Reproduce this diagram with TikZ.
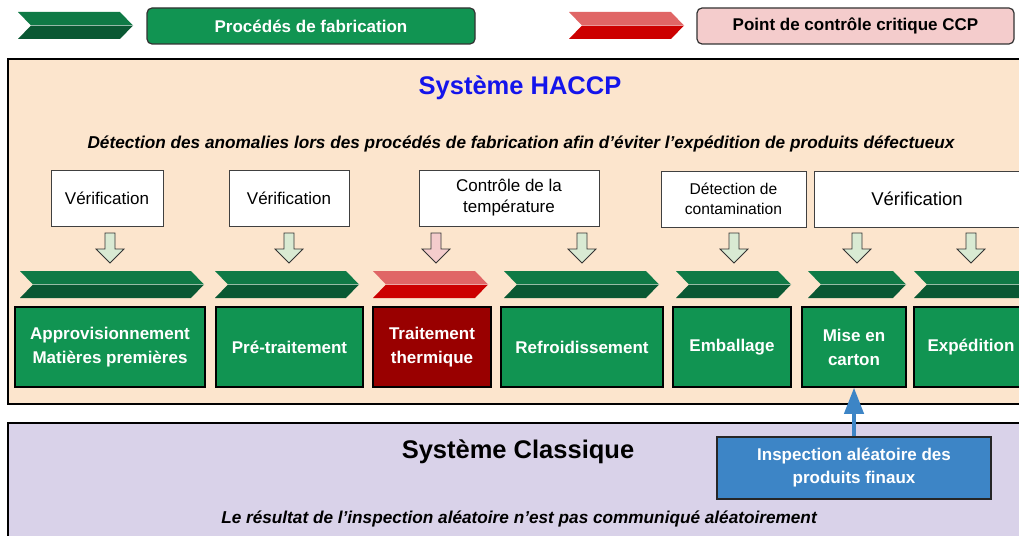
\documentclass[tikz,border=0pt]{standalone}
\usepackage{fontspec}
\setmainfont{Liberation Sans}
\usetikzlibrary{arrows.meta}
\definecolor{procgreen}{RGB}{17,148,82}
\definecolor{ccpred}{RGB}{153,0,0}
\definecolor{chgtop}{RGB}{15,122,70}
\definecolor{chgbot}{RGB}{10,88,51}
\definecolor{chrtop}{RGB}{224,102,102}
\definecolor{chrbot}{RGB}{204,0,0}
\definecolor{haccpbg}{RGB}{252,229,205}
\definecolor{classbg}{RGB}{217,210,233}
\definecolor{inspblue}{RGB}{61,133,198}
\definecolor{titleblue}{RGB}{20,20,235}
\definecolor{arrgreen}{RGB}{217,234,211}
\definecolor{arrpink}{RGB}{244,204,204}
\newcommand\mychev[6]{%
  \fill[#5] (#1,#3) -- ({#2-13},#3) -- (#2,{(#3+#4)/2}) -- ({#1+13},{(#3+#4)/2}) -- cycle;
  \fill[#6] ({#1+13},{(#3+#4)/2}) -- (#2,{(#3+#4)/2}) -- ({#2-13},#4) -- (#1,#4) -- cycle;
  \draw[white,opacity=0.45,line width=0.9pt] ({#1+13},{(#3+#4)/2}) -- (#2,{(#3+#4)/2});
}
\newcommand\myblockarrow[2]{%
  \draw[draw=black!80,fill=#2,line width=0.8pt,line join=miter]
    ({#1-5},233) -- ({#1+5},233) -- ({#1+5},249) -- ({#1+14},249) -- (#1,263)
    -- ({#1-14},249) -- ({#1-5},249) -- cycle;
}
\tikzset{
  lbl/.style={draw=black!75,fill=white,line width=1pt,minimum height=56pt,inner sep=0pt,
    align=center,font=\fontsize{17}{21}\selectfont},
  proc/.style={draw=black,line width=1.5pt,fill=procgreen,text=white,minimum height=80pt,
    inner sep=0pt,align=center,font=\bfseries\fontsize{17}{24}\selectfont},
  legbox/.style={draw=black!80,line width=1.2pt,rounded corners=5pt,minimum height=36pt,
    inner sep=0pt,font=\bfseries\fontsize{17}{21}\selectfont},
  sysbox/.style={draw=black,line width=2pt},
  plain/.style={inner sep=0pt,align=center}
}
\begin{document}
\begin{tikzpicture}[x=1pt,y=-1pt]
\useasboundingbox (0,0) rectangle (1019,535);
\clip (0,0) rectangle (1019,535);
\fill[white] (0,0) rectangle (1019,535);

% legend
\mychev{18}{133}{12}{39}{chgtop}{chgbot}
\node[legbox,fill=procgreen,text=white,minimum width=328pt] (legproc) at (311,26) {Procédés de fabrication};
\mychev{569}{684}{12}{39}{chrtop}{chrbot}
\node[legbox,fill=arrpink,text=black,minimum width=317pt] (legccp) at (855.5,26) {Point de contrôle critique CCP};

% HACCP system
\draw[sysbox,fill=haccpbg] (8,59) rectangle (1040,404);
\node[plain,text=titleblue,font=\bfseries\fontsize{25.5}{30}\selectfont] (haccp) at (520,88) {Système HACCP};
\node[plain,font=\bfseries\itshape\fontsize{17.2}{21}\selectfont] (haccpsub) at (521,144)
  {Détection des anomalies lors des procédés de fabrication afin d’éviter l’expédition de produits défectueux};

% control labels
\node[lbl,minimum width=112pt] (v1) at (107,198) {Vérification};
\node[lbl,minimum width=120pt] (v2) at (289,198) {Vérification};
\node[lbl,minimum width=180pt] (v3) at (509,198) {Contrôle de la\\température};
\node[lbl,minimum width=145pt,font=\fontsize{15.6}{20}\selectfont] (v4) at (733.5,199) {Détection de\\contamination};
\node[lbl,minimum width=206pt,font=\fontsize{18.5}{22}\selectfont] (v5) at (917,199) {Vérification};

% block arrows
\myblockarrow{110}{arrgreen}
\myblockarrow{289}{arrgreen}
\myblockarrow{436}{arrpink}
\myblockarrow{582}{arrgreen}
\myblockarrow{734}{arrgreen}
\myblockarrow{857}{arrgreen}
\myblockarrow{971}{arrgreen}

% chevrons
\mychev{20}{204}{271}{298}{chgtop}{chgbot}
\mychev{215}{359}{271}{298}{chgtop}{chgbot}
\mychev{373}{488}{271}{298}{chrtop}{chrbot}
\mychev{504}{659}{271}{298}{chgtop}{chgbot}
\mychev{676}{791}{271}{298}{chgtop}{chgbot}
\mychev{808}{906}{271}{298}{chgtop}{chgbot}
\mychev{914}{1032}{271}{298}{chgtop}{chgbot}

% process boxes
\node[proc,minimum width=190pt] (p1) at (110,347) {Approvisionnement\\Matières premières};
\node[proc,minimum width=147pt] (p2) at (289.5,347) {Pré-traitement};
\node[proc,minimum width=118pt,fill=ccpred] (p3) at (432,347) {Traitement\\thermique};
\node[proc,minimum width=162pt] (p4) at (582,347) {Refroidissement};
\node[proc,minimum width=118pt] (p5) at (732,347) {Emballage};
\node[proc,minimum width=104pt] (carton) at (854,347) {Mise en\\carton};
\node[proc,minimum width=114pt] (p7) at (971,347) {Expédition};

% classic system
\draw[sysbox,line width=1.5pt,fill=classbg] (8,423) rectangle (1040,560);
\node[plain,font=\bfseries\fontsize{25.5}{30}\selectfont] (classic) at (518,452) {Système Classique};
\node[plain,font=\bfseries\itshape\fontsize{17.2}{21}\selectfont] (classicsub) at (519,519)
  {Le résultat de l’inspection aléatoire n’est pas communiqué aléatoirement};

\node[draw=black!85,line width=1.2pt,fill=inspblue,text=white,minimum width=274pt,minimum height=62pt,
  inner sep=0pt,align=center,font=\bfseries\fontsize{17}{23}\selectfont] (insp) at (854,468)
  {Inspection aléatoire des\\produits finaux};

\draw[inspblue,line width=4pt,-{Triangle[width=19pt,length=26pt]}] (insp.north -| carton.south) -- (carton.south);
\end{tikzpicture}
\end{document}
